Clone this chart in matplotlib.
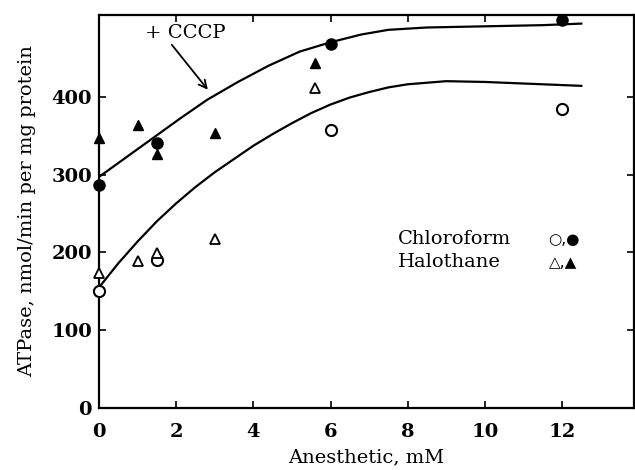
import matplotlib.pyplot as plt

# data
chl_open_x = [0, 1.5, 6, 12]
chl_open_y = [150, 190, 357, 384]
chl_fill_x = [0, 1.5, 6, 12]
chl_fill_y = [287, 340, 468, 499]
hal_open_x = [0, 1, 1.5, 3, 5.6]
hal_open_y = [174, 189, 199, 217, 411]
hal_fill_x = [0, 1, 1.5, 3, 5.6]
hal_fill_y = [347, 364, 327, 354, 444]

# hand-drawn fitted curves
upper_x = [0, 0.7, 1.4, 2.1, 2.8, 3.6, 4.4, 5.2, 6.0, 6.8, 7.5, 8.5, 9.5, 10.5, 11.5, 12.5]
upper_y = [297, 322, 347, 372, 396, 419, 440, 458, 470, 480, 486, 489, 490, 491, 492, 494]
lower_x = [0, 0.5, 1.0, 1.5, 2.0, 2.5, 3.0, 3.5, 4.0, 4.5, 5.0, 5.5, 6.0, 6.5, 7.0, 7.5, 8.0, 9.0, 10.0, 11.0, 12.0, 12.5]
lower_y = [155, 186, 214, 240, 263, 284, 303, 320, 337, 352, 366, 379, 390, 399, 406, 412, 416, 420, 419, 417, 415, 414]

plt.rcParams['font.family'] = ['DejaVu Serif', 'DejaVu Sans']

fig = plt.figure(figsize=(6.35, 4.7), dpi=100)
ax = fig.add_axes([0.156, 0.132, 0.842, 0.836])

ax.plot(upper_x, upper_y, color='black', lw=1.6)
ax.plot(lower_x, lower_y, color='black', lw=1.6)

ms = 8
ax.plot(chl_open_x, chl_open_y, 'o', mfc='white', mec='black', mew=1.5, ms=ms, ls='none', clip_on=False, zorder=5)
ax.plot(chl_fill_x, chl_fill_y, 'o', color='black', ms=ms, ls='none', clip_on=False, zorder=5)
ax.plot(hal_open_x, hal_open_y, '^', mfc='white', mec='black', mew=1.3, ms=7.5, ls='none', clip_on=False, zorder=5)
ax.plot(hal_fill_x, hal_fill_y, '^', color='black', ms=7.5, ls='none', clip_on=False, zorder=5)

ax.annotate('+ CCCP', xy=(2.82, 409), xytext=(1.2, 482), fontsize=14,
            va='center', ha='left',
            arrowprops=dict(arrowstyle='->', color='black', lw=1.3,
                            shrinkA=0, shrinkB=0, relpos=(0.3, 0.0)))

ax.text(7.75, 217, 'Chloroform', fontsize=14, va='center', ha='left')
ax.text(7.75, 187, 'Halothane', fontsize=14, va='center', ha='left')
ax.text(11.65, 217, '\u25CB,\u25CF', fontsize=11, va='center', ha='left', family=['DejaVu Sans'])
ax.text(11.65, 187, '\u25B3,\u25B2', fontsize=11, va='center', ha='left', family=['DejaVu Sans'])

ax.set_xlim(0, 13.86)
ax.set_ylim(0, 505)
ax.set_xticks([0, 2, 4, 6, 8, 10, 12])
ax.set_yticks([0, 100, 200, 300, 400])
ax.tick_params(direction='in', top=True, right=True, length=5, width=1.2, labelsize=14)
ax.tick_params(axis='x', pad=11)
ax.tick_params(axis='y', pad=5)
for lab in ax.get_xticklabels() + ax.get_yticklabels():
    lab.set_fontweight('bold')
for s in ax.spines.values():
    s.set_linewidth(1.6)

ax.set_xlabel('Anesthetic, mM', fontsize=14, labelpad=5)
ax.set_ylabel('ATPase, nmol/min per mg protein', fontsize=14, labelpad=11)

fig.savefig('out.png', dpi=100)
